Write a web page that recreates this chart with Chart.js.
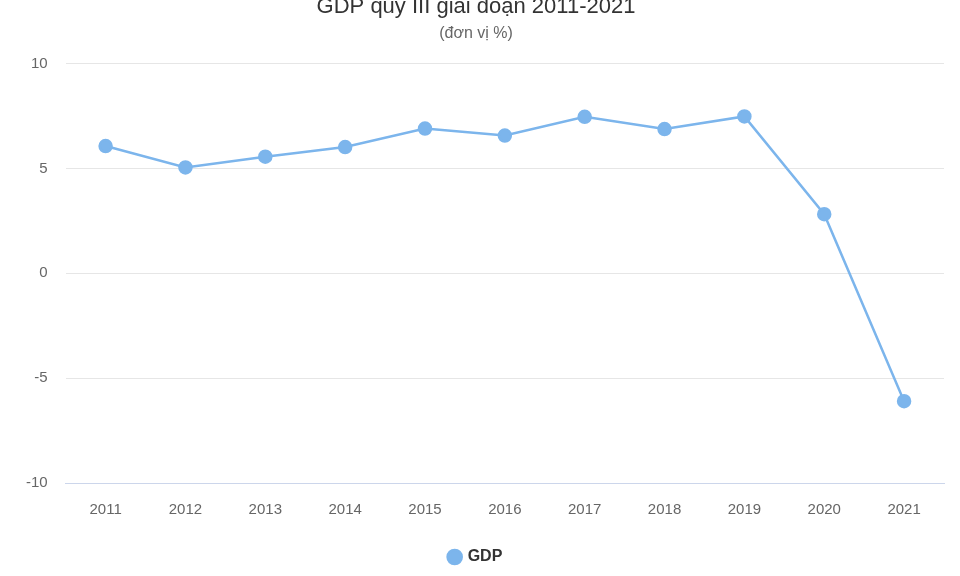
<!DOCTYPE html>
<html><head><meta charset="utf-8">
<script src="https://cdn.jsdelivr.net/npm/chart.js@4"></script>
<style>body{margin:0;overflow:hidden;background:#fff}#w{position:absolute;left:0;top:-6px;width:960px;height:595px}</style>
</head><body><div id="w"><canvas id="c"></canvas></div>
<script>
const years=['2011','2012','2013','2014','2015','2016','2017','2018','2019','2020','2021'];
const gdp=[6.07,5.05,5.56,6.02,6.9,6.57,7.46,6.88,7.48,2.82,-6.1];
Chart.defaults.font.family='"Liberation Sans", Arial, sans-serif';
new Chart(document.getElementById('c'),{type:'line',
data:{labels:years,datasets:[{label:'GDP',data:gdp,borderColor:'#7cb5ec',backgroundColor:'#7cb5ec',borderWidth:2.5,pointRadius:6,pointHoverRadius:6,tension:0}]},
options:{responsive:true,maintainAspectRatio:false,animation:false,
layout:{padding:{left:8,right:16,top:0,bottom:14}},
plugins:{title:{display:true,text:'GDP quý III giai đoạn 2011-2021',color:'#333',font:{size:22,weight:'normal'},padding:{top:0,bottom:4}},
subtitle:{display:true,text:'(đơn vị %)',color:'#666',font:{size:16},padding:{bottom:20}},
legend:{position:'bottom',labels:{usePointStyle:true,pointStyle:'circle',boxWidth:10,boxHeight:10,color:'#333',font:{size:16,weight:'bold'},padding:20}}},
scales:{y:{min:-10,max:10,ticks:{stepSize:5,color:'#666',font:{size:15},padding:18},grid:{color:'#e6e6e6',drawTicks:false},border:{display:false}},
x:{offset:true,ticks:{color:'#666',font:{size:15},padding:10},grid:{display:false},border:{color:'#ccd6eb'}}}}});
</script></body></html>
